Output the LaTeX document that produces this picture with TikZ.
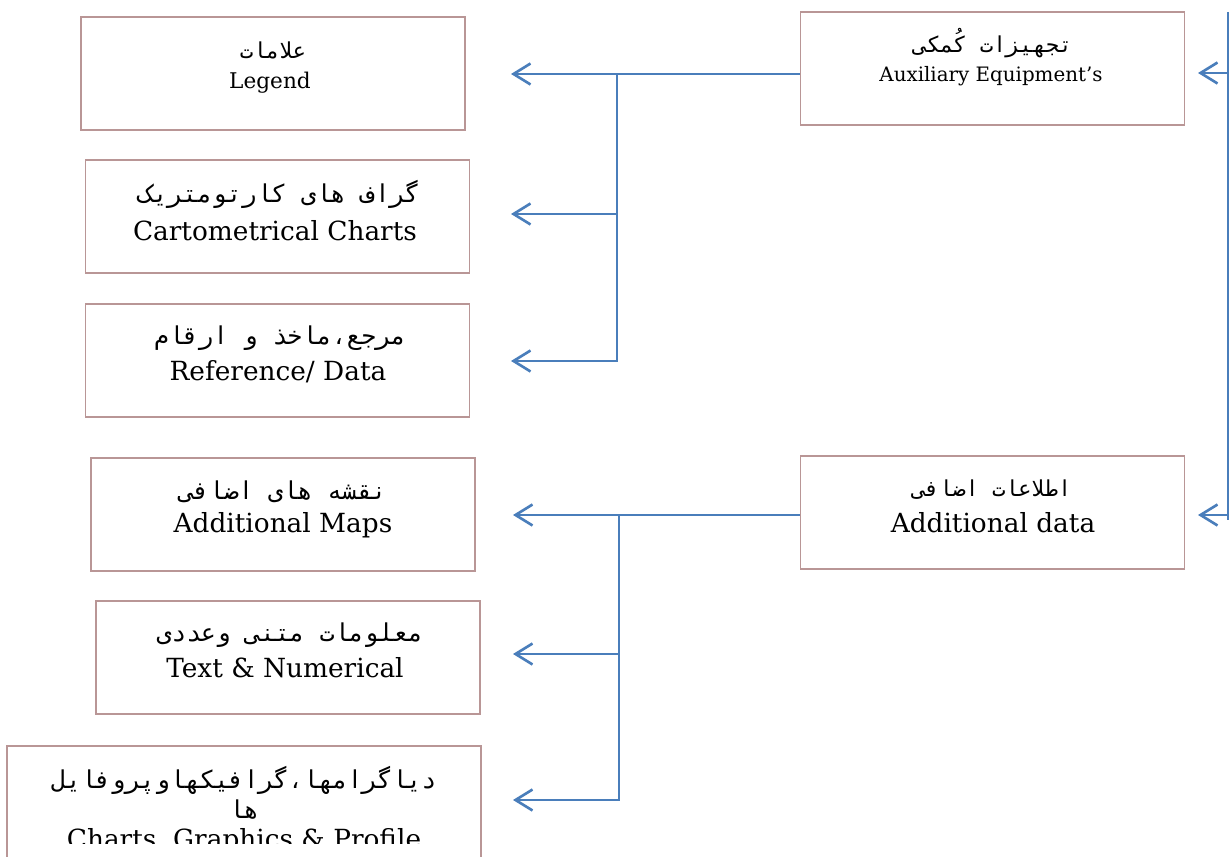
\documentclass[tikz,border=0pt]{standalone}
\usepackage{fontspec}
\setmainfont{DejaVu Serif}
\newfontfamily\fa[Script=Arabic]{DejaVu Sans Mono}
\usetikzlibrary{arrows.meta}
\TeXXeTstate=1
\definecolor{boxline}{RGB}{185,150,150}
\definecolor{arrowline}{RGB}{74,126,187}
\newcommand{\rtl}[1]{\beginR #1\endR}

\begin{document}
\begin{tikzpicture}[x=0.02cm,y=-0.02cm]
        \useasboundingbox (0,0) rectangle (1231,857);

        \begin{scope}[every node/.style={draw=boxline,line width=0.85pt,minimum width=7.68cm,minimum height=2.26cm,inner sep=0pt}]
          \node (1) at (273,73.5)   {};
          \node (2) at (277.5,216.5) {};
          \node (3) at (277.5,360.5) {};
          \node (4) at (283,514.5)  {};
          \node (5) at (288,657.5)  {};
          \node[minimum width=9.48cm] (6) at (244,802.5) {};
          \node (7) at (992.5,68.5) {};
          \node (8) at (992.5,512.5) {};
        \end{scope}

        \begin{scope}[every node/.style={inner sep=0pt,font=\fa\fontsize{14}{17}\selectfont}]
          \node[font=\fa\fontsize{12.5}{15}\selectfont] (1a) at (273,50)  {\rtl{علامات}};
          \node (2a) at (279,194) {\rtl{گراف های کارتومتریک}};
          \node (3a) at (280,338) {\rtl{مرجع،ماخذ و ارقام}};
          \node (4a) at (283,492) {\rtl{نقشه های اضافی}};
          \node (5a) at (290,635) {\rtl{معلومات متنی وعددی}};
          \node (6a) at (244,780) {\rtl{دیاگرامها،گرافیکهاوپروفایل}};
          \node (6b) at (244,810) {\rtl{ها}};
          \node[font=\fa\fontsize{12.5}{15}\selectfont] (7a) at (993,43)  {\rtl{تجهیزات کُمکی}};
          \node[font=\fa\fontsize{12.5}{15}\selectfont] (8a) at (992,490) {\rtl{اطلاعات اضافی}};
        \end{scope}

        \begin{scope}[every node/.style={inner sep=0pt,font=\fontsize{15}{18}\selectfont}]
          \node[font=\fontsize{12.3}{15}\selectfont] (1b) at (270,83) {Legend};
          \node (2b) at (275,231) {Cartometrical Charts};
          \node (3b) at (278,372) {Reference/ Data};
          \node (4b) at (283,525) {Additional Maps};
          \node (5b) at (285,668) {Text \& Numerical};
          \node[font=\fontsize{11.3}{14}\selectfont] (7b) at (991,76) {Auxiliary Equipment’s};
          \node (8b) at (993,523) {Additional data};
          \begin{scope}
            \clip (0,0) rectangle (1231,843);
            \node (6c) at (244,841) {Charts, Graphics \& Profile};
          \end{scope}
        \end{scope}

        \begin{scope}[arrowline,line width=1.5pt,>={Straight Barb[length=3.4mm,width=4.2mm]}]
          \coordinate (j1) at (617,74);
          \coordinate (j2) at (619,515);
          \coordinate (t1) at (511,74);
          \coordinate (t2) at (511,214);
          \coordinate (t3) at (511,361);
          \coordinate (t4) at (513,515);
          \coordinate (t5) at (513,654);
          \coordinate (t6) at (513,800);
          \coordinate (r0) at (1228,12);
          \coordinate (r1) at (1228,520);
          \coordinate (t7) at (1198,73);
          \coordinate (t8) at (1198,515);

          \draw[->] (7.west |- t1) -- (t1);
          \draw[->] (j1) |- (t3);
          \draw[->] (j1 |- t2) -- (t2);
          \draw[->] (8.west |- t4) -- (t4);
          \draw[->] (j2) |- (t6);
          \draw[->] (j2 |- t5) -- (t5);
          \draw (r0) -- (r1);
          \draw[->] (r0 |- t7) -- (t7);
          \draw[->] (r0 |- t8) -- (t8);
        \end{scope}

      \end{tikzpicture}
\end{document}
